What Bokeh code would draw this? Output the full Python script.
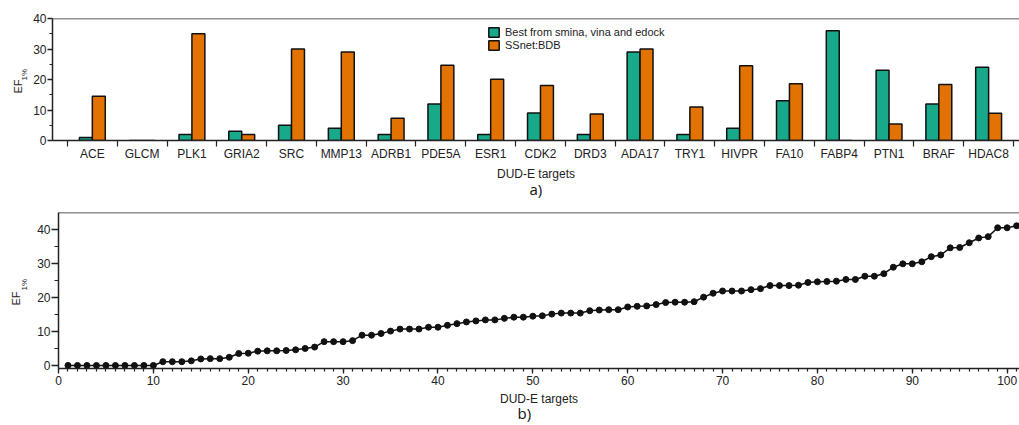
from bokeh.plotting import figure
from bokeh.models import (ColumnDataSource, FixedTicker, Span, Legend,
                          LegendItem, Range1d, Title)
from bokeh.embed import file_html
from bokeh.resources import INLINE

# ---------------- data ----------------
targets = ["ACE", "GLCM", "PLK1", "GRIA2", "SRC", "MMP13", "ADRB1", "PDE5A",
           "ESR1", "CDK2", "DRD3", "ADA17", "TRY1", "HIVPR", "FA10", "FABP4",
           "PTN1", "BRAF", "HDAC8"]
best_docking = [1, 0, 2, 3, 5, 4, 2, 12, 2, 9, 2, 29, 2, 4, 13, 36, 23, 12, 24]
ssnet_bdb = [14.5, 0, 35, 2, 30, 29, 7.3, 24.7, 20.1, 18, 8.7, 30, 11, 24.5,
             18.6, 0, 5.4, 18.4, 8.9]

target_rank = list(range(1, 102))
sorted_ef = [0, 0, 0, 0, 0, 0, 0, 0, 0, 0,
             1.1, 1.1, 1.1, 1.35, 1.9, 2.0, 2.0, 2.4, 3.5, 3.6,
             4.2, 4.3, 4.3, 4.4, 4.6, 5.0, 5.4, 7.0, 7.0, 7.0,
             7.3, 8.9, 8.9, 9.4, 10.1, 10.7, 10.7, 10.7, 11.25, 11.25,
             11.8, 12.3, 12.8, 13.1, 13.4, 13.4, 13.85, 14.2, 14.2, 14.5,
             14.6, 15.1, 15.4, 15.4, 15.4, 16.1, 16.3, 16.4, 16.4, 17.2,
             17.4, 17.5, 17.9, 18.5, 18.6, 18.6, 18.75, 20.1, 21.25, 21.9,
             21.9, 21.9, 22.3, 22.6, 23.5, 23.5, 23.5, 23.6, 24.4, 24.6,
             24.7, 24.8, 25.3, 25.3, 26.25, 26.25, 27.0, 28.9, 29.9, 29.9,
             30.5, 32.0, 32.5, 34.6, 34.7, 36.1, 37.5, 37.9, 40.5, 40.5, 41.1]

# ---------------- styles ----------------
FONT = "Liberation Sans"
CAP_FONT = "Open Sans"
GREEN = "#18a98a"
ORANGE = "#e27303"
AX = "#222222"
BAR_W = 0.26


def style_axes(p):
    for ax in (p.xaxis, p.yaxis):
        ax.axis_line_color = AX
        ax.axis_line_width = 1.5
        ax.major_tick_line_color = AX
        ax.major_tick_line_width = 1.3
        ax.minor_tick_line_color = AX
        ax.minor_tick_line_width = 1.2
        ax.major_tick_in = 0
        ax.minor_tick_in = 0
        ax.major_label_text_font = FONT
        ax.major_label_text_font_size = "12px"
        ax.major_label_text_color = "#222222"
        ax.axis_label_text_font = FONT
        ax.axis_label_text_font_size = "12px"
        ax.axis_label_text_font_style = "normal"
        ax.axis_label_text_color = "#222222"
    p.xgrid.visible = False
    p.ygrid.visible = False
    p.outline_line_color = None


def side_title(p, side, text, size, offset, font=FONT, color="#222222",
               valign="bottom", standoff=0):
    p.add_layout(Title(text=text, align="left", offset=offset, standoff=standoff,
                       vertical_align=valign,
                       text_font=font, text_font_size=size,
                       text_font_style="normal", text_color=color), side)


# ---------------- top chart (a) ----------------
n = len(targets)
centers = list(range(1, n + 1))
src = ColumnDataSource(dict(
    xg=[c - BAR_W / 2 for c in centers],
    xo=[c + BAR_W / 2 for c in centers],
    best=best_docking, ssnet=ssnet_bdb, name=targets))

p1 = figure(width=1019, height=198, x_range=Range1d(0.2, 19.62),
            y_range=Range1d(0, 40), output_backend="svg",
            toolbar_location=None, min_border_left=52, min_border_right=0,
            min_border_top=18, min_border_bottom=58)
style_axes(p1)

r_g = p1.vbar(x="xg", top="best", bottom=0, width=BAR_W, source=src,
              fill_color=GREEN, line_color="#111111", line_width=1.5)
r_o = p1.vbar(x="xo", top="ssnet", bottom=0, width=BAR_W, source=src,
              fill_color=ORANGE, line_color="#111111", line_width=1.5)

p1.xaxis.ticker = FixedTicker(ticks=centers,
                              minor_ticks=[c + 0.5 for c in range(0, n + 1)])
p1.xaxis.major_label_overrides = {c: t for c, t in zip(centers, targets)}
p1.xaxis.major_tick_out = 0
p1.xaxis.minor_tick_out = 6
p1.xaxis.major_label_standoff = 0
p1.xaxis.axis_label = "DUD-E targets"
p1.xaxis.axis_label_standoff = 3

p1.yaxis.ticker = FixedTicker(ticks=[0, 10, 20, 30, 40], minor_ticks=[5, 15, 25, 35])
p1.yaxis.major_tick_out = 5
p1.yaxis.minor_tick_out = 3
p1.yaxis.major_label_standoff = 1

p1.add_layout(Span(location=40, dimension="width", line_color=AX, line_width=1.5))

legend = Legend(items=[
    LegendItem(label="Best from smina, vina and edock", renderers=[r_g]),
    LegendItem(label="SSnet:BDB", renderers=[r_o])],
    location=(435, 89), orientation="vertical",
    glyph_width=13, glyph_height=12, label_height=12, label_width=20,
    spacing=1, padding=0, margin=0, label_standoff=5,
    label_text_font=FONT, label_text_font_size="11px",
    label_text_color="#222222",
    border_line_color=None, background_fill_alpha=0)
p1.add_layout(legend)

side_title(p1, "left", "1%", "8px", 60, valign="top")
side_title(p1, "left", "EF", "11px", 47, standoff=-9)
side_title(p1, "below", "a)", "15px", 477, font=CAP_FONT, color="#111111",
           valign="top", standoff=-9)

# ---------------- bottom chart (b) ----------------
src2 = ColumnDataSource(dict(x=target_rank, y=sorted_ef))
p2 = figure(width=1019, height=227, x_range=Range1d(0, 101.3),
            y_range=Range1d(-0.9, 45), output_backend="svg",
            toolbar_location=None, min_border_left=58, min_border_right=0,
            min_border_top=14, min_border_bottom=57)
style_axes(p2)
p2.line("x", "y", source=src2, line_color="#111111", line_width=1.5)
p2.scatter("x", "y", source=src2, size=6, fill_color="#111111",
           line_color="#111111", line_width=1)

p2.xaxis.ticker = FixedTicker(ticks=list(range(0, 101, 10)),
                              minor_ticks=list(range(0, 102)))
p2.xaxis.major_tick_out = 5
p2.xaxis.minor_tick_out = 3
p2.xaxis.major_label_standoff = 2
p2.xaxis.axis_label = "DUD-E targets"
p2.xaxis.axis_label_standoff = 4

p2.yaxis.ticker = FixedTicker(ticks=[0, 10, 20, 30, 40], minor_ticks=[5, 15, 25, 35])
p2.yaxis.major_tick_out = 7
p2.yaxis.minor_tick_out = 4
p2.yaxis.major_label_standoff = 1

p2.add_layout(Span(location=45, dimension="width", line_color=AX, line_width=1.5))

side_title(p2, "left", "1%", "8px", 78, valign="top", standoff=8)
side_title(p2, "left", "EF", "11px", 63, standoff=-12)
side_title(p2, "below", "b)", "15px", 459, font=CAP_FONT, color="#111111",
           valign="top", standoff=-12)

open("out.html", "w").write(file_html([p1, p2], INLINE))
